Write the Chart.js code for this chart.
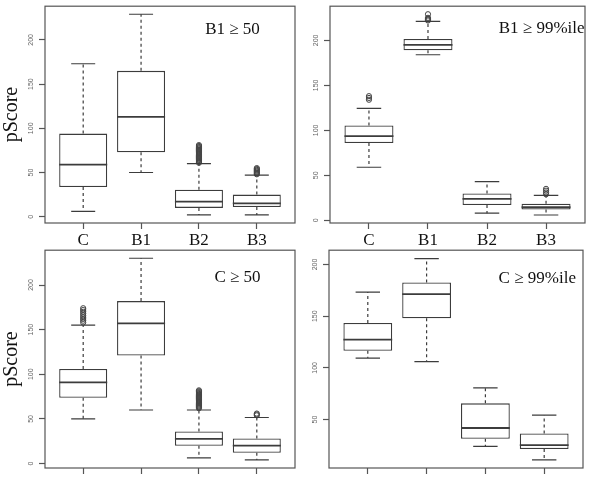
<!DOCTYPE html>
<html lang="en">
<head>
<meta charset="UTF-8">
<title>pScore boxplots</title>
<script src="https://cdn.jsdelivr.net/npm/chart.js"></script>
<style>
    body { margin: 0; background: #ffffff; width: 600px; height: 479px; overflow: hidden; position: relative; }
    .panel { position: absolute; width: 300px; height: 250px; }
</style>
</head>
<body>
<div class="panel" style="left:0;top:0"><canvas id="p1"></canvas></div>
<div class="panel" style="left:300px;top:0"><canvas id="p2"></canvas></div>
<div class="panel" style="left:0;top:244px"><canvas id="p3"></canvas></div>
<div class="panel" style="left:300px;top:244px"><canvas id="p4"></canvas></div>

<script>
// groups and tick labels
const groups = ['C', 'B1', 'B2', 'B3'];
const yTicks = [0, 50, 100, 150, 200];
const yTicksC99 = [50, 100, 150, 200];

// B1 >= 50
const b1_50_low  = [6, 50, 2, 2];
const b1_50_q1   = [33.5, 73, 10, 11];
const b1_50_med  = [59, 113, 17, 15];
const b1_50_q3   = [94, 165, 30.5, 25];
const b1_50_high = [173, 229, 60, 47];
const b1_50_out  = [[], [], [61, 62, 63, 64, 65, 66, 67, 68, 69, 70, 71, 72, 73, 74, 75, 76, 77, 78, 79, 80, 81], [48, 49, 50, 51, 52, 53, 54, 55]];

// B1 >= 99%ile
const b1_99_low  = [59, 184, 8, 6];
const b1_99_q1   = [86, 189, 17, 12];
const b1_99_med  = [93.5, 195, 24, 14.6];
const b1_99_q3   = [105.5, 201.5, 30, 18.6];
const b1_99_high = [124.5, 221, 43, 27.7];
const b1_99_out  = [[134, 136, 138], [222, 223, 224, 225, 229], [], [29, 31, 33, 35]];

// C >= 50
const c_50_low  = [50, 60, 6.3, 4];
const c_50_q1   = [73.7, 121, 20, 12];
const c_50_med  = [91, 157, 27.6, 20];
const c_50_q3   = [106, 182, 36, 28];
const c_50_high = [155, 230, 60, 51.6];
const c_50_out  = [[158, 160, 162, 164, 166, 168, 170, 172, 174], [], [62, 63, 64, 65, 66, 67, 68, 69, 70, 71, 72, 73, 74, 75, 76, 77, 78, 79, 80, 81, 82], [54, 55, 56]];

// C >= 99%ile
const c_99_low  = [109.5, 106, 24.2, 11.1];
const c_99_q1   = [116.6, 148, 31.4, 21.6];
const c_99_med  = [127.3, 171.4, 41.9, 25.4];
const c_99_q3   = [143.5, 182.6, 65.7, 36.6];
const c_99_high = [173.3, 205.7, 80.7, 54.3];
const c_99_out  = [[], [], [], []];

const LINE = '#3c3c3c';

// medians, whiskers and caps, placed with the chart scales
const whiskerPlugin = {
    id: 'whiskers',
    afterDatasetsDraw(chart) {
        const st = chart.options.plugins.whiskers;
        const xs = chart.scales.x, ys = chart.scales.y;
        const bars = chart.getDatasetMeta(0).data;
        const ctx = chart.ctx;
        ctx.save();
        ctx.strokeStyle = LINE;
        st.low.forEach((lo, i) => {
            const x = xs.getPixelForValue(i);
            const half = bars[i].width / 2;
            const cap = half / 2;
            ctx.lineWidth = 1.2;
            ctx.setLineDash([3, 3]);
            ctx.beginPath();
            ctx.moveTo(x, ys.getPixelForValue(st.q3[i]));
            ctx.lineTo(x, ys.getPixelForValue(st.high[i]));
            ctx.moveTo(x, ys.getPixelForValue(st.q1[i]));
            ctx.lineTo(x, ys.getPixelForValue(lo));
            ctx.stroke();
            ctx.setLineDash([]);
            ctx.beginPath();
            ctx.moveTo(x - cap, ys.getPixelForValue(st.high[i]));
            ctx.lineTo(x + cap, ys.getPixelForValue(st.high[i]));
            ctx.moveTo(x - cap, ys.getPixelForValue(lo));
            ctx.lineTo(x + cap, ys.getPixelForValue(lo));
            ctx.stroke();
            ctx.lineWidth = 1.8;
            ctx.beginPath();
            ctx.moveTo(x - half, ys.getPixelForValue(st.med[i]));
            ctx.lineTo(x + half, ys.getPixelForValue(st.med[i]));
            ctx.stroke();
        });
        ctx.restore();
    }
};

// frame around plot region and the panel tag
const framePlugin = {
    id: 'frame',
    afterDraw(chart) {
        const st = chart.options.plugins.frame;
        const a = chart.chartArea;
        const ctx = chart.ctx;
        ctx.save();
        ctx.strokeStyle = '#555';
        ctx.lineWidth = 1.2;
        ctx.strokeRect(a.left, a.top, a.right - a.left, a.bottom - a.top);
        ctx.fillStyle = '#111';
        ctx.font = '17px "Liberation Serif", serif';
        ctx.textAlign = 'center';
        ctx.textBaseline = 'middle';
        ctx.fillText(st.tag, a.left + st.fx * (a.right - a.left), a.top + st.ty);
        ctx.restore();
    }
};

function boxChart(id, p) {
    const boxes = p.q1.map((q, i) => ({ x: i, y: [q, p.q3[i]] }));
    const outliers = [];
    p.out.forEach((vals, i) => vals.forEach(v => outliers.push({ x: i, y: v })));
    new Chart(document.getElementById(id), {
        type: 'bar',
        data: {
            datasets: [{
                data: boxes,
                backgroundColor: '#ffffff',
                borderColor: LINE,
                borderWidth: 1.3,
                borderSkipped: false,
                categoryPercentage: 1,
                barPercentage: 0.83
            }, {
                type: 'scatter',
                data: outliers,
                pointStyle: 'circle',
                pointRadius: 2.6,
                backgroundColor: 'rgba(0,0,0,0)',
                borderColor: '#444',
                borderWidth: 1
            }]
        },
        options: {
            responsive: true,
            maintainAspectRatio: false,
            animation: false,
            events: [],
            layout: { padding: { top: 3, right: p.padRight, left: 0, bottom: 0 } },
            plugins: {
                legend: { display: false },
                tooltip: { enabled: false },
                whiskers: { low: p.low, q1: p.q1, med: p.med, q3: p.q3, high: p.high },
                frame: { tag: p.tag, fx: p.fx, ty: p.ty }
            },
            scales: {
                x: {
                    type: 'linear',
                    min: -0.66,
                    max: 3.66,
                    offset: false,
                    afterBuildTicks: s => { s.ticks = groups.map((g, i) => ({ value: i })); },
                    afterFit: s => { s.height = p.xHeight; },
                    ticks: {
                        display: p.xLabels,
                        callback: v => groups[v],
                        autoSkip: false,
                        maxRotation: 0,
                        padding: 1,
                        color: '#111',
                        font: { family: '"Liberation Serif", serif', size: 17 }
                    },
                    grid: { offset: false, drawOnChartArea: false, tickLength: 6, tickColor: '#555', tickWidth: 1.2 },
                    border: { display: false }
                },
                y: {
                    type: 'linear',
                    min: p.yMin,
                    max: p.yMax,
                    afterBuildTicks: s => { s.ticks = p.ticks.map(v => ({ value: v })); },
                    afterFit: s => { s.width = p.yWidth; },
                    title: {
                        display: !!p.yTitle,
                        text: p.yTitle || '',
                        color: '#111',
                        padding: { top: 0, bottom: 0 },
                        font: { family: '"Liberation Serif", serif', size: 20 }
                    },
                    ticks: {
                        minRotation: 90,
                        maxRotation: 90,
                        crossAlign: 'center',
                        padding: 2,
                        color: '#666',
                        font: { family: '"Liberation Sans", sans-serif', size: 7 }
                    },
                    grid: { drawOnChartArea: false, tickLength: 6, tickColor: '#555', tickWidth: 1.2 },
                    border: { display: false }
                }
            }
        },
        plugins: [whiskerPlugin, framePlugin]
    });
}

boxChart('p1', { low: b1_50_low, q1: b1_50_q1, med: b1_50_med, q3: b1_50_q3, high: b1_50_high, out: b1_50_out,
    ticks: yTicks, yMin: -7.1, yMax: 238.1, yTitle: 'pScore', tag: 'B1 ≥ 50', fx: 0.75, ty: 23,
    yWidth: 45, padRight: 2, xHeight: 27, xLabels: true });
boxChart('p2', { low: b1_99_low, q1: b1_99_q1, med: b1_99_med, q3: b1_99_q3, high: b1_99_high, out: b1_99_out,
    ticks: yTicks, yMin: -2.9, yMax: 237.9, yTitle: null, tag: 'B1 ≥ 99%ile', fx: 0.83, ty: 22,
    yWidth: 30, padRight: 15, xHeight: 27, xLabels: true });
boxChart('p3', { low: c_50_low, q1: c_50_q1, med: c_50_med, q3: c_50_q3, high: c_50_high, out: c_50_out,
    ticks: yTicks, yMin: -5, yMax: 239, yTitle: 'pScore', tag: 'C ≥ 50', fx: 0.77, ty: 27,
    yWidth: 45, padRight: 4, xHeight: 26, xLabels: false });
boxChart('p4', { low: c_99_low, q1: c_99_q1, med: c_99_med, q3: c_99_q3, high: c_99_high, out: c_99_out,
    ticks: yTicksC99, yMin: 3.2, yMax: 213.8, yTitle: null, tag: 'C ≥ 99%ile', fx: 0.82, ty: 28,
    yWidth: 29, padRight: 17, xHeight: 26, xLabels: false });
</script>
</body>
</html>
